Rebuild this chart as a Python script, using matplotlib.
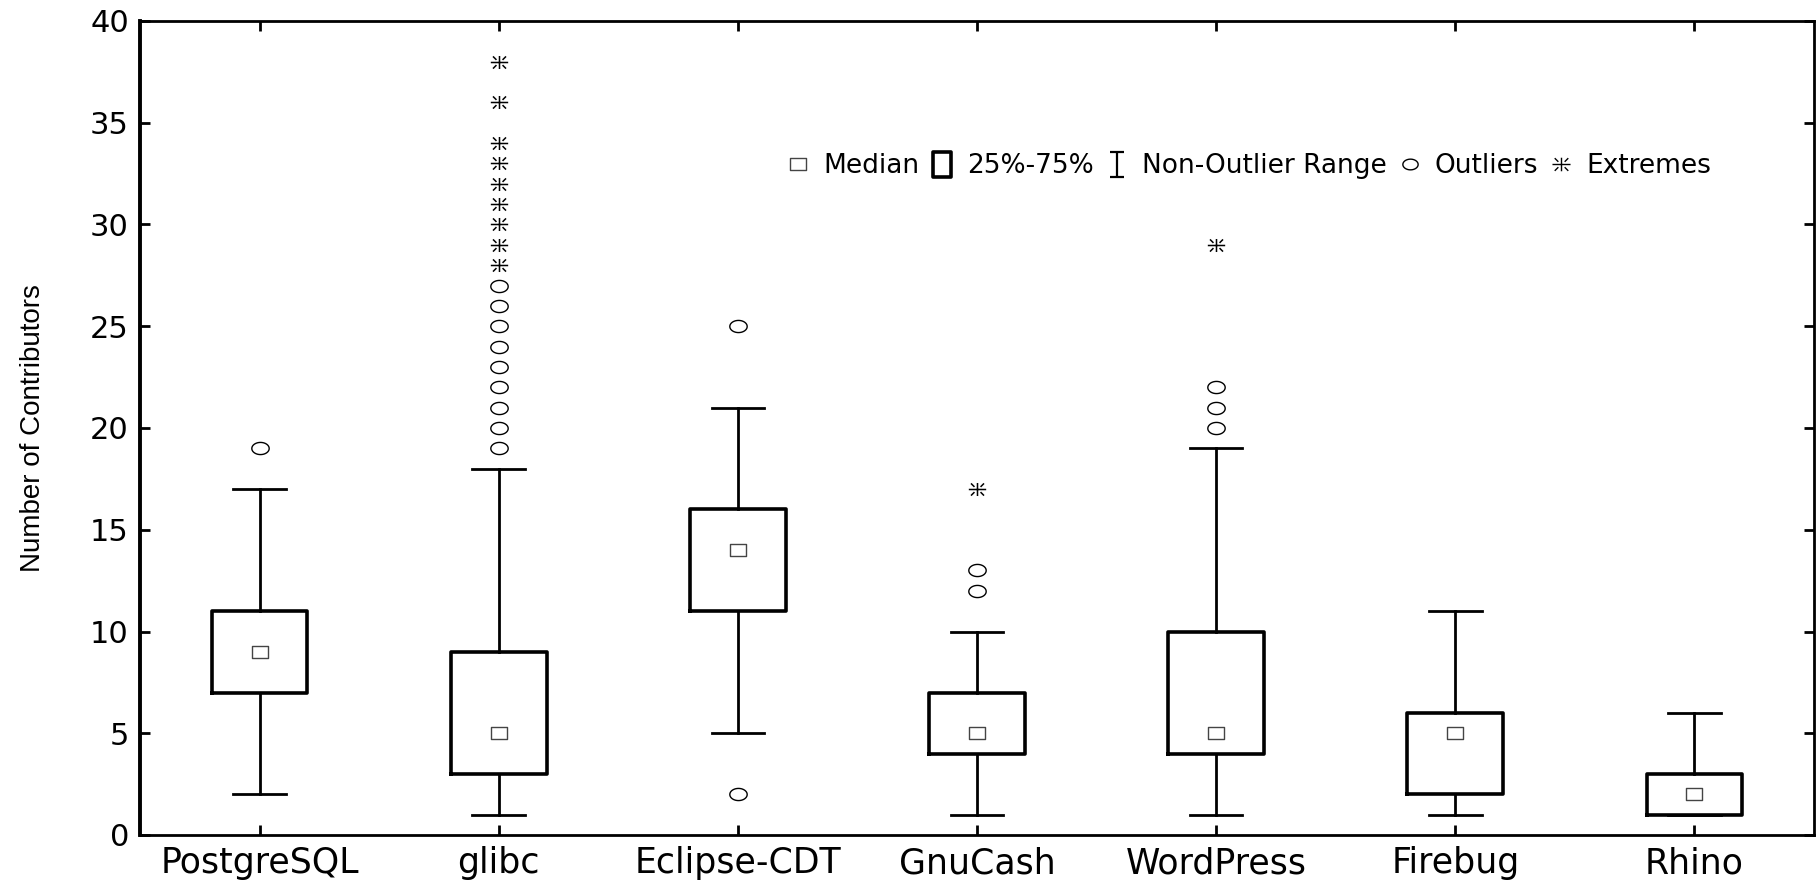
import numpy as np
import matplotlib
matplotlib.use("Agg")
import matplotlib.pyplot as plt
from matplotlib.path import Path
from matplotlib.lines import Line2D

# values
projects = ["PostgreSQL", "glibc", "Eclipse-CDT", "GnuCash", "WordPress", "Firebug", "Rhino"]
medians = [9, 5, 14, 5, 5, 5, 2]
q1 = [7, 3, 11, 4, 4, 2, 1]
q3 = [11, 9, 16, 7, 10, 6, 3]
whisk_lo = [2, 1, 5, 1, 1, 1, 1]
whisk_hi = [17, 18, 21, 10, 19, 11, 6]
outliers = [[19], [19, 20, 21, 22, 23, 24, 25, 26, 27], [25, 2], [12, 13], [20, 21, 22], [], []]
extremes = [[], [28, 29, 30, 31, 32, 33, 34, 36, 38], [], [17], [29], [], []]

# custom (slightly flattened) markers like the original
t = np.linspace(0, 2 * np.pi, 60)
ellipse = Path(np.c_[np.cos(t), 0.7 * np.sin(t)], closed=True)
flat_sq = Path([(-1, -0.7), (1, -0.7), (1, 0.7), (-1, 0.7), (-1, -0.7)], closed=True)
tall_sq = Path([(-0.75, -1), (0.75, -1), (0.75, 1), (-0.75, 1), (-0.75, -1)], closed=True)
ibeam = Path([(-0.55, -1), (0.55, -1), (0, -1), (0, 1), (-0.55, 1), (0.55, 1)],
             [Path.MOVETO, Path.LINETO, Path.MOVETO, Path.LINETO, Path.MOVETO, Path.LINETO])
M, L = Path.MOVETO, Path.LINETO
star = Path([(-1, 0), (1, 0), (0, -0.75), (0, 0.75),
             (0.35, 0.3), (0.75, 0.7), (-0.35, 0.3), (-0.75, 0.7),
             (0.35, -0.3), (0.75, -0.7), (-0.35, -0.3), (-0.75, -0.7)],
            [M, L, M, L, M, L, M, L, M, L, M, L])

fig = plt.figure(figsize=(18.16, 8.81), dpi=100)
ax = fig.add_axes([140 / 1816, 46 / 881, 1674 / 1816, 814 / 881])

pos = list(range(len(projects)))
stats = []
for i, name in enumerate(projects):
    stats.append(dict(med=medians[i], q1=q1[i], q3=q3[i], whislo=whisk_lo[i],
                      whishi=whisk_hi[i], fliers=[], label=name))

ax.bxp(stats, positions=pos, widths=0.40, capwidths=0.22, showfliers=False,
       boxprops=dict(color="black", lw=2.6),
       whiskerprops=dict(color="black", lw=2.0),
       capprops=dict(color="black", lw=2.0),
       medianprops=dict(visible=False))

ax.plot(pos, medians, linestyle="none", marker=flat_sq, ms=12, mfc="white",
        mec="#444444", mew=1.0, zorder=4)
for i in pos:
    if outliers[i]:
        ax.plot([i] * len(outliers[i]), outliers[i], linestyle="none", marker=ellipse,
                ms=12.5, mfc="white", mec="black", mew=1.0)
    if extremes[i]:
        ax.plot([i] * len(extremes[i]), extremes[i], linestyle="none", marker=star,
                ms=12.5, mfc="none", mec="black", mew=1.1)

ax.set_xlim(-0.5, 6.5)
ax.set_ylim(0, 40)
ax.set_yticks(range(0, 41, 5))
ax.set_xticks(pos)
ax.set_xticklabels(projects, fontsize=25, family="DejaVu Sans")
for lab in ax.get_yticklabels():
    lab.set_fontsize(22)
    lab.set_family("DejaVu Sans")
ax.tick_params(direction="in", top=True, right=True, length=7, width=2)
ax.tick_params(axis="x", pad=8)
ax.tick_params(axis="y", pad=8)
for s in ax.spines.values():
    s.set_linewidth(2)
ax.spines["left"].set_linewidth(2.8)

ax.set_ylabel("Number of Contributors", fontsize=20,
              family=["Liberation Sans Narrow", "Liberation Sans", "DejaVu Sans"])
ax.yaxis.set_label_coords(-0.056, 0.5)

handles = [
    Line2D([], [], linestyle="none", marker=flat_sq, ms=12, mfc="white", mec="#444444", mew=1.0),
    Line2D([], [], linestyle="none", marker=tall_sq, ms=18, mfc="white", mec="black", mew=2.6),
    Line2D([], [], linestyle="none", marker=ibeam, ms=18, mfc="none", mec="black", mew=1.6),
    Line2D([], [], linestyle="none", marker=ellipse, ms=11, mfc="white", mec="black", mew=1.0),
    Line2D([], [], linestyle="none", marker=star, ms=13, mfc="none", mec="black", mew=1.0),
]
labels = ["Median", "25%-75%", "Non-Outlier Range", "Outliers", "Extremes"]
ax.legend(handles, labels, ncol=5, frameon=False, fontsize=19, loc="center left",
          bbox_to_anchor=(0.386, 0.822), borderaxespad=0, borderpad=0,
          handlelength=0.9, handletextpad=0.5, columnspacing=0.42)

fig.savefig("out.png", dpi=100)
